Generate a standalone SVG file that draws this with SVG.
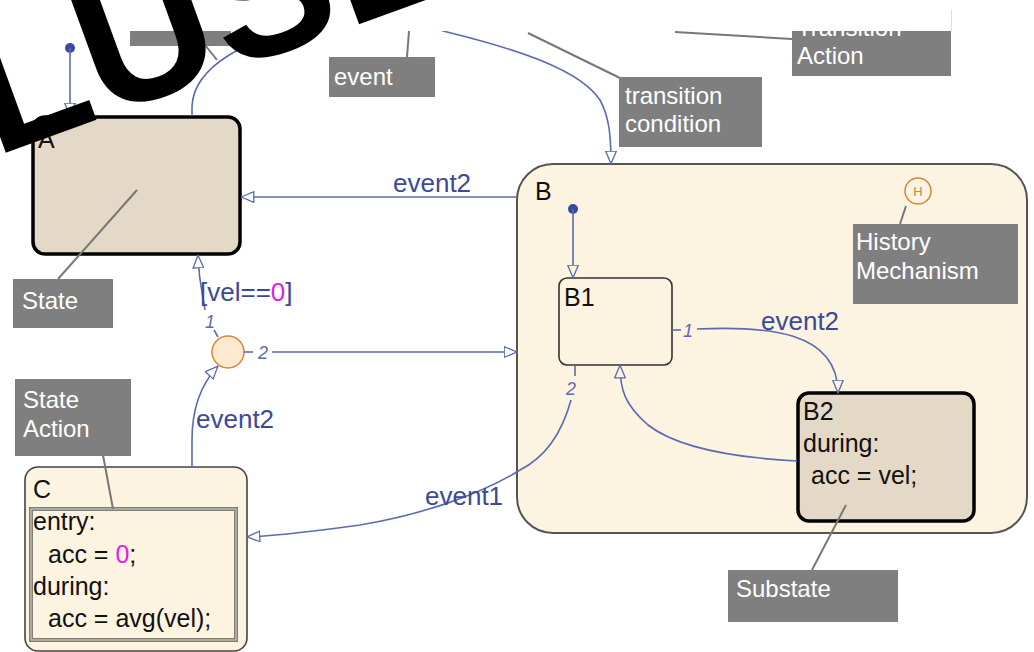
<svg xmlns="http://www.w3.org/2000/svg" width="1034" height="652" viewBox="0 0 1034 652">
<defs>
<style>
.conn{fill:none;stroke:#5c6aae;stroke-width:1.6}
.lead{fill:none;stroke:#777;stroke-width:2}
.lbl{fill:#7f7f7f}
.lt{font-family:"Liberation Sans",Arial,sans-serif;font-size:24px;fill:#fff}
.st{font-family:"Liberation Sans",Arial,sans-serif;font-size:25px;fill:#111}
.ev{font-family:"Liberation Sans",Arial,sans-serif;font-size:26px;fill:#3c4a96}
.num{font-family:"Liberation Sans",Arial,sans-serif;font-size:18px;font-style:italic;fill:#5c6aae}
.mag{fill:#e020e0}
</style>
<marker id="aw" markerUnits="userSpaceOnUse" viewBox="0 0 14 12" refX="13.5" refY="6" markerWidth="14" markerHeight="12" orient="auto"><path d="M0.7,0.7 L13.3,6 L0.7,11.3 Z" fill="#fff" stroke="#5c6aae" stroke-width="1.3"/></marker>
<marker id="ac" markerUnits="userSpaceOnUse" viewBox="0 0 14 12" refX="13.5" refY="6" markerWidth="14" markerHeight="12" orient="auto"><path d="M0.7,0.7 L13.3,6 L0.7,11.3 Z" fill="#fdf3e1" stroke="#5c6aae" stroke-width="1.3"/></marker>
</defs>
<rect width="1034" height="652" fill="#fff"/>

<g id="B">
<rect x="517" y="164" width="510" height="369" rx="36" fill="#fdf3e1" stroke="#555" stroke-width="2"/>
<text class="st" x="535" y="200">B</text>
</g>
<g id="A">
<rect x="33" y="117" width="207" height="137" rx="12" fill="#e3d9c6" stroke="#000" stroke-width="3.5"/>
<text class="st" x="38" y="148">A</text>
</g>
<g id="C">
<rect x="25" y="467" width="222" height="184" rx="13" fill="#fdf3e1" stroke="#444" stroke-width="1.6"/>
<text class="st" x="33" y="498">C</text>
<rect x="31" y="509" width="205" height="131" fill="none" stroke="#808078" stroke-width="4"/>
<rect x="31" y="509" width="205" height="131" fill="none" stroke="#d8d0c0" stroke-width="1"/>
<text class="st" x="33" y="530">entry:</text>
<text class="st" x="48" y="563">acc = <tspan class="mag">0</tspan>;</text>
<text class="st" x="33" y="595">during:</text>
<text class="st" x="48" y="627">acc = avg(vel);</text>
</g>
<g id="B1">
<rect x="559" y="278" width="113" height="87" rx="8" fill="#fdf3e1" stroke="#333" stroke-width="1.6"/>
<text class="st" x="564" y="306">B1</text>
</g>
<g id="B2">
<rect x="798" y="393" width="176" height="128" rx="11" fill="#e3d9c6" stroke="#000" stroke-width="3.5"/>
<text class="st" x="803" y="420">B2</text>
<text class="st" x="803" y="452">during:</text>
<text class="st" x="811" y="484">acc = vel;</text>
</g>
<g id="junction">
<circle cx="228" cy="352" r="16" fill="#fde9cf" stroke="#d4873a" stroke-width="1.5"/>
</g>
<g id="history">
<circle cx="918" cy="191" r="13" fill="none" stroke="#d4873a" stroke-width="1.5"/>
<text x="918" y="196" text-anchor="middle" font-family="Liberation Sans,Arial,sans-serif" font-size="13" fill="#d4873a">H</text>
</g>

<g id="connectors">
<circle cx="70" cy="48" r="5" fill="#3a4a9a"/>
<path class="conn" d="M70,48 L70,116" marker-end="url(#aw)"/>
<path class="conn" d="M192,116 L192,106 C194,70 240,35 330,25 C390,20 430,26 447,32 C520,50 580,70 600,100 C610,118 611,140 611,164" marker-end="url(#aw)"/>
<path class="conn" d="M517,197 L241,197" marker-end="url(#aw)"/>
<text class="ev" x="393" y="192">event2</text>
<circle cx="573" cy="209" r="5" fill="#3a4a9a"/>
<path class="conn" d="M573,209 L573,278" marker-end="url(#ac)"/>
<path class="conn" d="M672,330 L681,330"/>
<text class="num" x="683" y="337">1</text>
<path class="conn" d="M697,329 C765,326 838,330 838,393" marker-end="url(#ac)"/>
<text class="ev" x="761" y="330">event2</text>
<path class="conn" d="M797,461 C740,458 680,450 648,425 C625,405 620,390 620,365" marker-end="url(#ac)"/>
<path class="conn" d="M575,365 L575,376"/>
<text class="num" x="566" y="395">2</text>
<path class="conn" d="M571,400 C560,440 540,460 520,470 C480,495 420,515 360,525 C310,532 270,536 247,537" marker-end="url(#aw)"/>
<text class="ev" x="425" y="505">event1</text>
<path class="conn" d="M192,467 L192,440 C192,405 203,382 218,366" marker-end="url(#aw)"/>
<text class="ev" x="196" y="428">event2</text>
<path class="conn" d="M218,337 L214,330"/>
<text class="num" x="205" y="328">1</text>
<path class="conn" d="M205,310 C203,295 199,285 198,255" marker-end="url(#aw)"/>
<text class="ev" x="200" y="301" font-size="27">[vel==<tspan class="mag">0</tspan>]</text>
<path class="conn" d="M244,352 L253,352"/>
<text class="num" x="258" y="359">2</text>
<path class="conn" d="M272,352 L517,352" marker-end="url(#aw)"/>
</g>

<g id="label-state">
<path class="lead" d="M58,279 L137,190"/>
<rect class="lbl" x="13" y="279" width="100" height="49"/>
<text class="lt" x="22" y="309">State</text>
</g>
<g id="label-state-action">
<path class="lead" d="M103,455 L113,509"/>
<rect class="lbl" x="15" y="379" width="116" height="77"/>
<text class="lt" x="23" y="408">State</text>
<text class="lt" x="23" y="437">Action</text>
</g>
<g id="label-history">
<path class="lead" d="M900,224 L906,206"/>
<rect class="lbl" x="853" y="224" width="165" height="80"/>
<text class="lt" x="856" y="250" font-size="25">History</text>
<text class="lt" x="856" y="279" font-size="25">Mechanism</text>
</g>
<g id="label-substate">
<path class="lead" d="M812,570 L846,505"/>
<rect class="lbl" x="728" y="570" width="170" height="52"/>
<text class="lt" x="736" y="597">Substate</text>
</g>
<g id="label-event">
<path class="lead" d="M407,57 L409,31"/>
<rect class="lbl" x="329" y="57" width="106" height="40"/>
<text class="lt" x="334" y="85">event</text>
</g>
<g id="label-condition">
<path class="lead" d="M620,78 L528,33"/>
<rect class="lbl" x="619" y="77" width="143" height="70"/>
<text class="lt" x="625" y="104">transition</text>
<text class="lt" x="625" y="132">condition</text>
</g>
<g id="label-action">
<path class="lead" d="M792,39 L675,32"/>
<rect class="lbl" x="792" y="14" width="159" height="62"/>
<text class="lt" x="797" y="36">Transition</text>
<text class="lt" x="797" y="64">Action</text>
</g>
<g id="label-topleft">
<path class="lead" d="M205,45 L217,60"/>
<rect class="lbl" x="130" y="20" width="101" height="26"/>
</g>

<rect x="0" y="0" width="951" height="31" fill="#fff"/>
<path d="M951.5,10 L951.5,31" stroke="#ddd" stroke-width="1"/>

<text x="-6" y="157" transform="rotate(-20 -6 157)" font-family="Liberation Sans,Arial,sans-serif" font-weight="bold" font-size="188" fill="#000">LUSE</text>
</svg>
